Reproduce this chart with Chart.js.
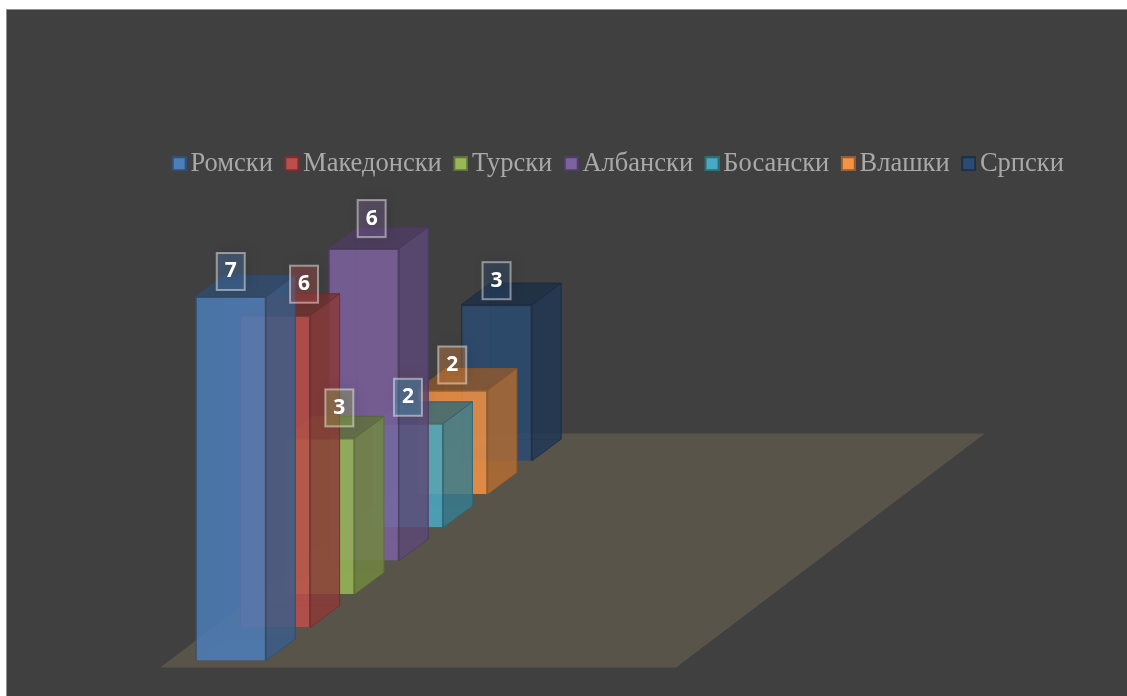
<!DOCTYPE html>
<html>
<head>
<meta charset="utf-8">
<style>
  html, body { margin: 0; height: 100%; background: #fff; overflow: hidden; }
  #frame { position: absolute; left: 6px; top: 9px; right: 0; bottom: 0; border-left: 1px solid #909090; border-top: 1px solid #909090; background: #404040; }
  #chart { display: block; }
</style>
<script src="https://cdn.jsdelivr.net/npm/chart.js@4/dist/chart.umd.min.js"></script>
</head>
<body>
<div id="frame"><canvas id="chart" width="1120" height="686"></canvas></div>
<script>
const categories = ["Јазик"];
const seriesNames = ["Ромски", "Македонски", "Турски", "Албански", "Босански", "Влашки", "Српски"];
const seriesValues = [7, 6, 3, 6, 2, 2, 3];
const seriesColors = ["#4f81bd", "#c0504d", "#9bbb59", "#8064a2", "#4bacc6", "#f79646", "#2c4d75"];

// the labels were dragged by hand in the original, so each has its own nudge
const labelShiftX = [0, 29, 20, 8, 0, 0, 0];
const labelLift = [25, 31, 30, 30, 26, 25, 24];

const BAR_STEP = 44.3;
const BAR_WIDTH = 71;
const ROW_RISE = 33.3;
const DEPTH_X = 29;
const DEPTH_Y = 21.5;
const UNIT_PX = 52;
const PLOT_LEFT = 201.6;
const PLOT_BOTTOM = 650.5;
const LEGEND_SHIFT = 53;

function rgba(hex, shade, alpha) {
  const n = parseInt(hex.slice(1), 16);
  const r = Math.round(((n >> 16) & 255) * shade);
  const g = Math.round(((n >> 8) & 255) * shade);
  const b = Math.round((n & 255) * shade);
  return `rgba(${r}, ${g}, ${b}, ${alpha})`;
}

// transparent strip on the left pulls the box closer to its text
function makeSwatch(color) {
  const c = document.createElement("canvas");
  c.width = 20;
  c.height = 15;
  const g = c.getContext("2d");
  g.fillStyle = rgba(color, 0.62, 1);
  g.fillRect(5, 0, 15, 15);
  g.fillStyle = rgba(color, 0.98, 1);
  g.fillRect(7, 2, 11, 11);
  return c;
}
const swatches = seriesColors.map(makeSwatch);

function face(ctx, pts, fill, stroke) {
  ctx.beginPath();
  pts.forEach((p, i) => (i ? ctx.lineTo(p[0], p[1]) : ctx.moveTo(p[0], p[1])));
  ctx.closePath();
  ctx.fillStyle = fill;
  ctx.fill();
  if (stroke) {
    ctx.strokeStyle = stroke;
    ctx.lineWidth = 1;
    ctx.stroke();
  }
}

// the library lays out one wide legend, so the bars get their own narrow band
const plotBand = {
  id: "plotBand",
  afterLayout(chart) {
    const { x, y } = chart.scales;
    const legend = chart.legend;
    x.left = PLOT_LEFT;
    x.right = PLOT_LEFT + BAR_STEP * seriesNames.length;
    x.width = x.right - x.left;
    x.configure();
    y.bottom = PLOT_BOTTOM;
    y.top = PLOT_BOTTOM - UNIT_PX * y.max;
    y.height = y.bottom - y.top;
    y.configure();
    legend.left += LEGEND_SHIFT;
    legend.right += LEGEND_SHIFT;
  },
};

const bars3d = {
  id: "bars3d",
  beforeDatasetsDraw(chart) {
    const { ctx, scales } = chart;
    const base = scales.y.getPixelForValue(0);
    const yBottom = base + 7;
    const yTop = yBottom - 234;
    const xLeft = scales.x.left - 48.5;
    const xRight = xLeft + 516;
    const run = (yBottom - yTop) * 1.32;
    face(ctx, [[xLeft, yBottom], [xRight, yBottom], [xRight + run, yTop], [xLeft + run, yTop]], "#585449");
  },
  beforeDatasetDraw(chart, args) {
    const { ctx } = chart;
    const color = seriesColors[args.index];
    const bar = args.meta.data[0];
    const l = bar.x - bar.width / 2;
    const r = bar.x + bar.width / 2;
    const t = bar.y;
    const b = bar.base;
    const edge = rgba(color, 0.6, 0.55);
    ctx.save();
    ctx.translate(0, -args.index * ROW_RISE);
    // see-through inner faces
    face(ctx, [[l + DEPTH_X, t - DEPTH_Y], [r + DEPTH_X, t - DEPTH_Y], [r + DEPTH_X, b - DEPTH_Y], [l + DEPTH_X, b - DEPTH_Y]], rgba(color, 0.8, 0.14), edge);
    face(ctx, [[l, b], [l + DEPTH_X, b - DEPTH_Y], [r + DEPTH_X, b - DEPTH_Y], [r, b]], rgba(color, 0.9, 0.2));
    // outer faces
    face(ctx, [[r, t], [r + DEPTH_X, t - DEPTH_Y], [r + DEPTH_X, b - DEPTH_Y], [r, b]], rgba(color, 0.72, 0.8), rgba(color, 0.6, 0.85));
    face(ctx, [[l, t], [l + DEPTH_X, t - DEPTH_Y], [r + DEPTH_X, t - DEPTH_Y], [r, t]], rgba(color, 0.6, 0.75), rgba(color, 0.55, 0.6));
  },
  afterDatasetDraw(chart) {
    chart.ctx.restore();
  },
  afterDatasetsDraw(chart) {
    const { ctx } = chart;
    seriesValues.forEach((value, i) => {
      const bar = chart.getDatasetMeta(i).data[0];
      const cx = bar.x + labelShiftX[i];
      const cy = bar.y - i * ROW_RISE - labelLift[i];
      const bx = cx - 14;
      const by = cy - 18.5;
      ctx.save();
      ctx.shadowColor = "rgba(0, 0, 0, 0.3)";
      ctx.shadowBlur = 14;
      ctx.shadowOffsetX = 3;
      ctx.shadowOffsetY = -2;
      ctx.fillStyle = rgba(seriesColors[i], 1, 0.33);
      ctx.fillRect(bx, by, 28, 37);
      ctx.restore();
      ctx.strokeStyle = "rgba(255, 255, 255, 0.45)";
      ctx.lineWidth = 2;
      ctx.strokeRect(bx, by, 28, 37);
      ctx.fillStyle = "#ffffff";
      ctx.font = 'bold 21px "Open Sans"';
      ctx.textAlign = "center";
      ctx.textBaseline = "middle";
      ctx.fillText(String(value), cx, cy);
    });
  },
};

const datasets = seriesNames.map((name, i) => ({
  label: name,
  data: [seriesValues[i]],
  backgroundColor: rgba(seriesColors[i], 0.97, 0.86),
  borderColor: rgba(seriesColors[i], 0.62, 0.95),
  borderWidth: 1.5,
  clip: false,
}));

new Chart(document.getElementById("chart").getContext("2d"), {
  type: "bar",
  data: { labels: categories, datasets },
  plugins: [plotBand, bars3d],
  options: {
    responsive: false,
    animation: false,
    categoryPercentage: 1,
    barPercentage: BAR_WIDTH / BAR_STEP,
    layout: { padding: { top: 124.5 } },
    scales: {
      x: { display: false },
      y: { display: false, min: 0, max: 8 },
    },
    plugins: {
      tooltip: { enabled: false },
      legend: {
        position: "top",
        labels: {
          color: "#a9a9a9",
          font: { family: '"Liberation Serif"', size: 26.5 },
          usePointStyle: true,
          pointStyleWidth: 1,
          padding: 16,
          generateLabels(chart) {
            return Chart.defaults.plugins.legend.labels.generateLabels(chart).map((item, i) => ({
              ...item,
              pointStyle: swatches[i],
            }));
          },
        },
      },
    },
  },
});
</script>
</body>
</html>
